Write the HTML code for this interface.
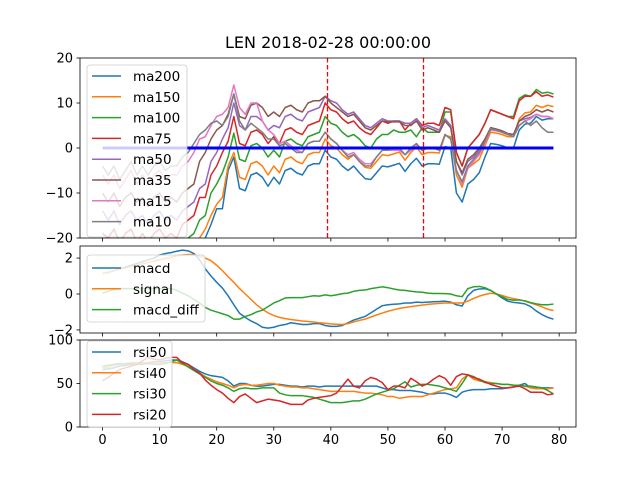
<!DOCTYPE html>
<html><head><meta charset="utf-8"><style>
html,body{margin:0;padding:0;background:#fff;}
svg{display:block;font-family:"DejaVu Sans","Liberation Sans",sans-serif;}
</style></head><body>
<svg id="chart" width="640" height="480" viewBox="0 0 640 480" xmlns="http://www.w3.org/2000/svg">
<rect width="640" height="480" fill="#fff"/>
<text x="328" y="48" font-size="16" text-anchor="middle">LEN 2018-02-28 00:00:00</text>
</svg>
<script>
const xs = Array.from({length:80},(_,i)=>i);
const ma200=[-27,-28,-27,-29,-28,-27,-29,-28,-30,-28,-27,-29,-28,-30,-27,-26,-25,-22,-20,-17,-13.5,-13.5,-5,-2,-9,-9.5,-6,-5.5,-6.5,-8.5,-6.5,-8,-5,-4.5,-5.5,-6,-4,-3.5,-3.5,-0.5,-2,-2.5,-4,-5,-4,-5.5,-6.8,-7,-5.5,-4,-4.2,-3.8,-3.4,-5.2,-3.5,-2.3,-4,-3.5,-3.5,-3.6,0.3,0,-10,-12,-8,-7,-5.5,-2,1,0.8,0.5,0,0,4,5.3,5.5,7,6.2,6.5,6.5];
const ma150=[-24,-25,-24,-26,-25,-24,-26,-25,-26,-25,-24,-25,-24,-25,-23,-22,-21,-20,-18,-15,-12.5,-11,-4,-1,-6.5,-7,-3.5,-3,-4,-6,-4,-5.5,-2.5,-2,-3,-3.5,-1.5,-1,-1,2,0.5,0,-1.5,-2.5,-1.5,-3,-4.3,-4.5,-3,-1.5,-1.7,-1.3,-0.9,-2.7,-1,0.2,-1.5,-1,-1,-1.1,2.8,2.5,-6,-8.7,-4.5,-3.5,-2.5,0.5,3.5,3.3,3,2.5,2.5,6.5,7.8,8,9.5,9,9.5,9.2];
const ma100=[-22,-23,-22,-24,-22,-21,-23,-22,-24,-22,-21,-23,-22,-23,-21,-20,-19,-16,-15,-10,-8,-5.5,-2,3.3,-2.5,-3,0.5,1,0,-2,-0.5,-2,1.5,2,1,0.5,2.5,3,3.5,7,5.5,5,3.5,2.5,3,2,0.5,0,2,3,3,4,3.5,3.5,4,2.5,4.5,3.5,3.5,3.5,8,8,-1,-4,0,1.5,3,5.5,8.5,8,7.5,7,7,11,11.8,11.5,13,12.2,12.4,12];
const ma75=[-19,-20,-18,-21,-19,-18,-21,-19,-21,-19,-18,-20,-19,-20,-17,-16,-15,-11,-11,-6,-4,-1,1.5,7,1,0.5,3.5,4,3,1,2.5,1,4,4.5,3.5,3,5,5.5,6,10,8.5,8,6.5,5.5,6,4.5,3.5,3,4.5,6,5.5,6,6,4,5.5,6.5,5,5.5,5.5,5,9,8.5,-1,-4,0,1.5,3,5.5,8.5,8,7.5,7,6.5,10.5,11.5,11.5,12.5,11.5,11.8,11.3];
const ma50=[-14,-16,-14,-17,-15,-14,-16,-15,-17,-15,-14,-16,-15,-16,-14,-13,-12,-9,-8,-3,-1,2,4.5,10,5,4,7,7,6,4,5,4.5,7,7.5,6.5,6,8,8.5,9,11.5,10.5,10,8.5,7.5,8,6.5,5,4.5,5.5,6.5,6,6,6,5.5,5.5,6.5,4.5,5,4.5,4,6.5,5,-3,-6,-3,-2,-0.5,1.5,4.5,4.2,3.8,3.2,3,6,6.5,6.8,7.5,7,7,6.5];
const ma35=[-10,-12,-10,-13,-11,-10,-12,-11,-13,-11,-10,-12,-11,-12,-10,-9,-8,-3,-1,2,4,5,7.5,12,7,6.5,9.5,10,9,7,8,7,9,9.5,8.5,8,10,10.5,10.5,11.5,10,9,8,7,7.5,6,4.5,4,5,6,5.8,5.8,5.8,5,5,6,4,4.5,4,3.5,6,4.5,-3,-5.5,-2.5,-1.5,0,2,4.5,4.2,3.8,3.2,3,6,7,7.5,8.5,8,8.5,8];
const ma15=[-6,-8,-6,-9,-7,-5,-8,-6,-8,-6,-5,-7,-6,-6,-4,-3,-1,2,2.5,5,7,7.5,9,14,9,7.5,10,10,6,4,3,1,1.5,0.5,-0.5,-1,1,1.5,1.5,3.5,2,1,-0.5,-1.5,-1,-2.5,-3.5,-3.5,-2,-0.5,-0.5,-0.5,-0.5,-1.5,-0.5,0.5,-0.5,0,0,-0.5,3,2,-5,-8,-4.5,-3,-1.5,1,4,3.8,3.5,3,2.5,5,6,6.5,7.5,7,7,6.5];
const ma10=[-4,-6,-4,-7,-5,-3,-6,-4,-6,-4,-3,-5,-4,-4,-2,-1,1,3,4,5.5,6,5,7,12,6,4,5.5,4.5,3.5,2,2,0.5,1,0,-1,-1,1,1.5,1.5,3.5,2,1,-0.5,-2,-1.5,-3,-4,-4,-2,-0.5,-0.5,0,0,-1.5,0,1,-0.5,0,0,-0.5,3,2,-5,-7.5,-4,-2.5,-1,1.5,4.3,4,3.5,3,2.5,5,6,5,6,4.5,3.5,3.5];
const vlines=[39.4,56.2];
const macd=[1.15,1.2,1.3,1.4,1.5,1.6,1.7,1.8,1.9,2.0,2.17,2.25,2.3,2.38,2.44,2.4,2.25,1.9,1.4,1.0,0.65,0.33,-0.1,-0.6,-1.07,-1.3,-1.5,-1.65,-1.85,-1.9,-1.85,-1.75,-1.7,-1.6,-1.65,-1.7,-1.7,-1.65,-1.65,-1.75,-1.8,-1.8,-1.75,-1.6,-1.45,-1.35,-1.25,-1.05,-0.85,-0.65,-0.6,-0.57,-0.55,-0.5,-0.5,-0.45,-0.47,-0.45,-0.43,-0.42,-0.4,-0.45,-0.6,-0.67,-0.1,0.2,0.28,0.3,0.2,0.0,-0.22,-0.4,-0.47,-0.5,-0.55,-0.7,-0.95,-1.15,-1.3,-1.4];
const signal=[1.15,1.22,1.3,1.38,1.45,1.52,1.6,1.68,1.75,1.82,1.9,1.97,2.05,2.12,2.17,2.2,2.18,2.1,2.0,1.85,1.6,1.3,0.96,0.65,0.3,0.0,-0.3,-0.6,-0.85,-1.05,-1.2,-1.3,-1.37,-1.42,-1.46,-1.5,-1.53,-1.56,-1.6,-1.63,-1.66,-1.68,-1.7,-1.65,-1.55,-1.47,-1.4,-1.28,-1.17,-1.06,-0.96,-0.88,-0.8,-0.75,-0.7,-0.66,-0.62,-0.58,-0.55,-0.52,-0.5,-0.5,-0.5,-0.5,-0.4,-0.25,-0.12,-0.03,0.04,0.0,-0.08,-0.18,-0.26,-0.32,-0.4,-0.5,-0.6,-0.72,-0.85,-0.92];
const macdDiff=[0.04,0.15,0.25,0.3,0.3,0.3,0.3,0.32,0.3,0.3,0.3,0.32,0.3,0.2,0.05,-0.1,-0.3,-0.5,-0.75,-0.9,-1.0,-1.1,-1.2,-1.4,-1.4,-1.25,-1.15,-1.0,-0.9,-0.7,-0.5,-0.37,-0.22,-0.2,-0.2,-0.2,-0.15,-0.1,-0.12,-0.05,-0.1,-0.05,0.02,0.05,0.15,0.2,0.22,0.3,0.35,0.4,0.35,0.28,0.22,0.2,0.15,0.12,0.1,0.05,0.03,0.03,0.02,0.0,-0.1,-0.15,0.3,0.4,0.42,0.35,0.2,0.0,-0.15,-0.3,-0.35,-0.33,-0.38,-0.48,-0.55,-0.6,-0.6,-0.56];
const rsi50=[66,67,68,70,71,72,73,73,74,75,75,76,77,77,75,72,68,64,61,59,58,57,53,47,50,50,48,47,47,48,49,49,48,47,47,46,47,47,46,47,47,47,47,47,47,47,47,47,47,45,43,43,42,42,42,41,40,38,38,39,39,37,34,40,42,43,43,43,44,44,44,45,46,48,50,45,45,45,45,45];
const rsi40=[68,69,71,72,73,74,74,74,73,74,74,74,74,74,72,70,66,62,58,55,52,50,48,45,48,49,48,48,49,50,50,48,47,46,46,45,45,44,43,42,41,41,41,41,41,40,39,39,38,37,35,35,33,34,35,35,35,37,39,41,43,44,45,55,60,55,53,52,51,50,49,49,48,48,47,45,44,44,44,45];
const rsi30=[70,71,72,73,72,73,72,72,73,72,72,73,75,77,73,69,65,61,57,53,50,48,45,41,44,45,44,44,45,45,45,39,37,36,36,36,35,34,32,30,28,28,28,29,30,30,32,35,38,40,42,44,48,52,46,48,49,49,48,47,45,43,41,50,60,58,54,51,50,50,49,49,48,48,47,47,46,45,42,38];
const rsi20=[53,57,62,66,68,70,72,76,80,78,77,79,80,80,74,72,66,62,54,48,43,39,33,28,35,38,33,28,30,32,31,30,28,26,26,26,31,33,34,35,36,39,47,55,47,45,53,57,55,51,43,47,47,45,56,52,47,50,55,59,56,48,58,61,60,57,55,52,49,47,45,45,46,47,44,40,40,40,37,38];
const topTicks=[20,10,0,-10,-20];
const midTicks=[2,0,-2];
const botTicks=[100,50,0];
const xTicks=[0,10,20,30,40,50,60,70,80];

const NS="http://www.w3.org/2000/svg";
const svg=document.getElementById('chart');
const C=['#1f77b4','#ff7f0e','#2ca02c','#d62728','#9467bd','#8c564b','#e377c2','#7f7f7f'];
const AX={l:80,r:576,xmin:-3.95,xmax:82.95};
function X(v){return AX.l+(v-AX.xmin)/(AX.xmax-AX.xmin)*(AX.r-AX.l);}
function mk(tag,attrs,parent){const e=document.createElementNS(NS,tag);for(const k in attrs)e.setAttribute(k,attrs[k]);(parent||svg).appendChild(e);return e;}
const defs=mk('defs',{});
function panel(id,top,bot,ymin,ymax,ticks,showX){
  const Y=v=>bot-(v-ymin)/(ymax-ymin)*(bot-top);
  const cp=mk('clipPath',{id:'cp'+id},defs);mk('rect',{x:AX.l,y:top,width:AX.r-AX.l,height:bot-top},cp);
  const g=mk('g',{'clip-path':'url(#cp'+id+')'});
  
  
  const ax=mk('g',{});
  
  
  ticks.forEach(t=>{
    mk('line',{x1:AX.l-3.5,x2:AX.l,y1:Y(t),y2:Y(t),stroke:'#000','stroke-width':0.8},ax);
    const tx=mk('text',{x:AX.l-7,y:Y(t)+4.5,'font-size':13,'text-anchor':'end'},ax);
    
    
    tx.textContent=String(t).replace('-','\u2212');
  });
  xTicks.forEach(t=>{
    mk('line',{x1:X(t),x2:X(t),y1:bot,y2:bot+3.5,stroke:'#000','stroke-width':0.8},ax);
    if(showX){const tx=mk('text',{x:X(t),y:bot+17,'font-size':13,'text-anchor':'middle'},ax);
      
      
      tx.textContent=t;}
  });
  return {g,Y,top,bot,ax};
}
function line(p,vals,color,name,w){
  const d=vals.map((v,i)=>(i?'L':'M')+X(xs[i]).toFixed(2)+','+p.Y(v).toFixed(2)).join('');
  const e=mk('path',{d,fill:'none',stroke:color,'stroke-width':w||1.5,'stroke-linejoin':'round'},p.g);
  
  
}
function frame(p){mk('rect',{x:AX.l,y:p.top,width:AX.r-AX.l,height:p.bot-p.top,fill:'none',stroke:'#000','stroke-width':0.8},p.ax);}
function legend(name,x,y,w,h,items,y0){
  const g=mk('g',{});
  
  
  mk('rect',{x,y,width:w,height:h,rx:3,fill:'rgba(255,255,255,0.8)',stroke:'#ccc','stroke-width':0.8},g);
  items.forEach((it,i)=>{
    const yy=y0+i*20.8;
    mk('line',{x1:x+5,x2:x+34,y1:yy,y2:yy,stroke:it[1],'stroke-width':1.5},g);
    const t=mk('text',{x:x+46,y:yy+5,'font-size':13.5},g);
    
    
    t.textContent=it[0];
  });
}
const p1=panel('ma',58,238,-20,20,topTicks,false);
const names1=['ma200','ma150','ma100','ma75','ma50','ma35','ma15','ma10'];
[ma200,ma150,ma100,ma75,ma50,ma35,ma15,ma10].forEach((s,k)=>line(p1,s,C[k],names1[k]));
const zl=mk('line',{x1:X(xs[0]),x2:X(xs[xs.length-1]),y1:p1.Y(0),y2:p1.Y(0),stroke:'#0000ff','stroke-width':3},p1.g);


vlines.forEach(v=>{const px=Math.round(X(v))+0.5;const e=mk('line',{x1:px,x2:px,y1:58,y2:238,stroke:'#ff0000','stroke-width':1.3,'stroke-dasharray':'4.5,2.5'},p1.g);
  
  });
frame(p1);
legend('ma-legend',87,65,100,172,names1.map((n,k)=>[n,C[k]]),76);
const p2=panel('macd',246,333,-2.17,2.67,midTicks,false);
line(p2,macd,C[0],'macd');line(p2,signal,C[1],'signal');line(p2,macdDiff,C[2],'macd-diff');
frame(p2);
legend('macd-legend',87,255,118,67,[['macd',C[0]],['signal',C[1]],['macd_diff',C[2]]],268);
const p3=panel('rsi',340,427,0,100,botTicks,true);
line(p3,rsi50,C[0],'rsi50');line(p3,rsi40,C[1],'rsi40');line(p3,rsi30,C[2],'rsi30');line(p3,rsi20,C[3],'rsi20');
frame(p3);
legend('rsi-legend',87,341,85,86,[['rsi50',C[0]],['rsi40',C[1]],['rsi30',C[2]],['rsi20',C[3]]],352);
</script>
</body></html>
